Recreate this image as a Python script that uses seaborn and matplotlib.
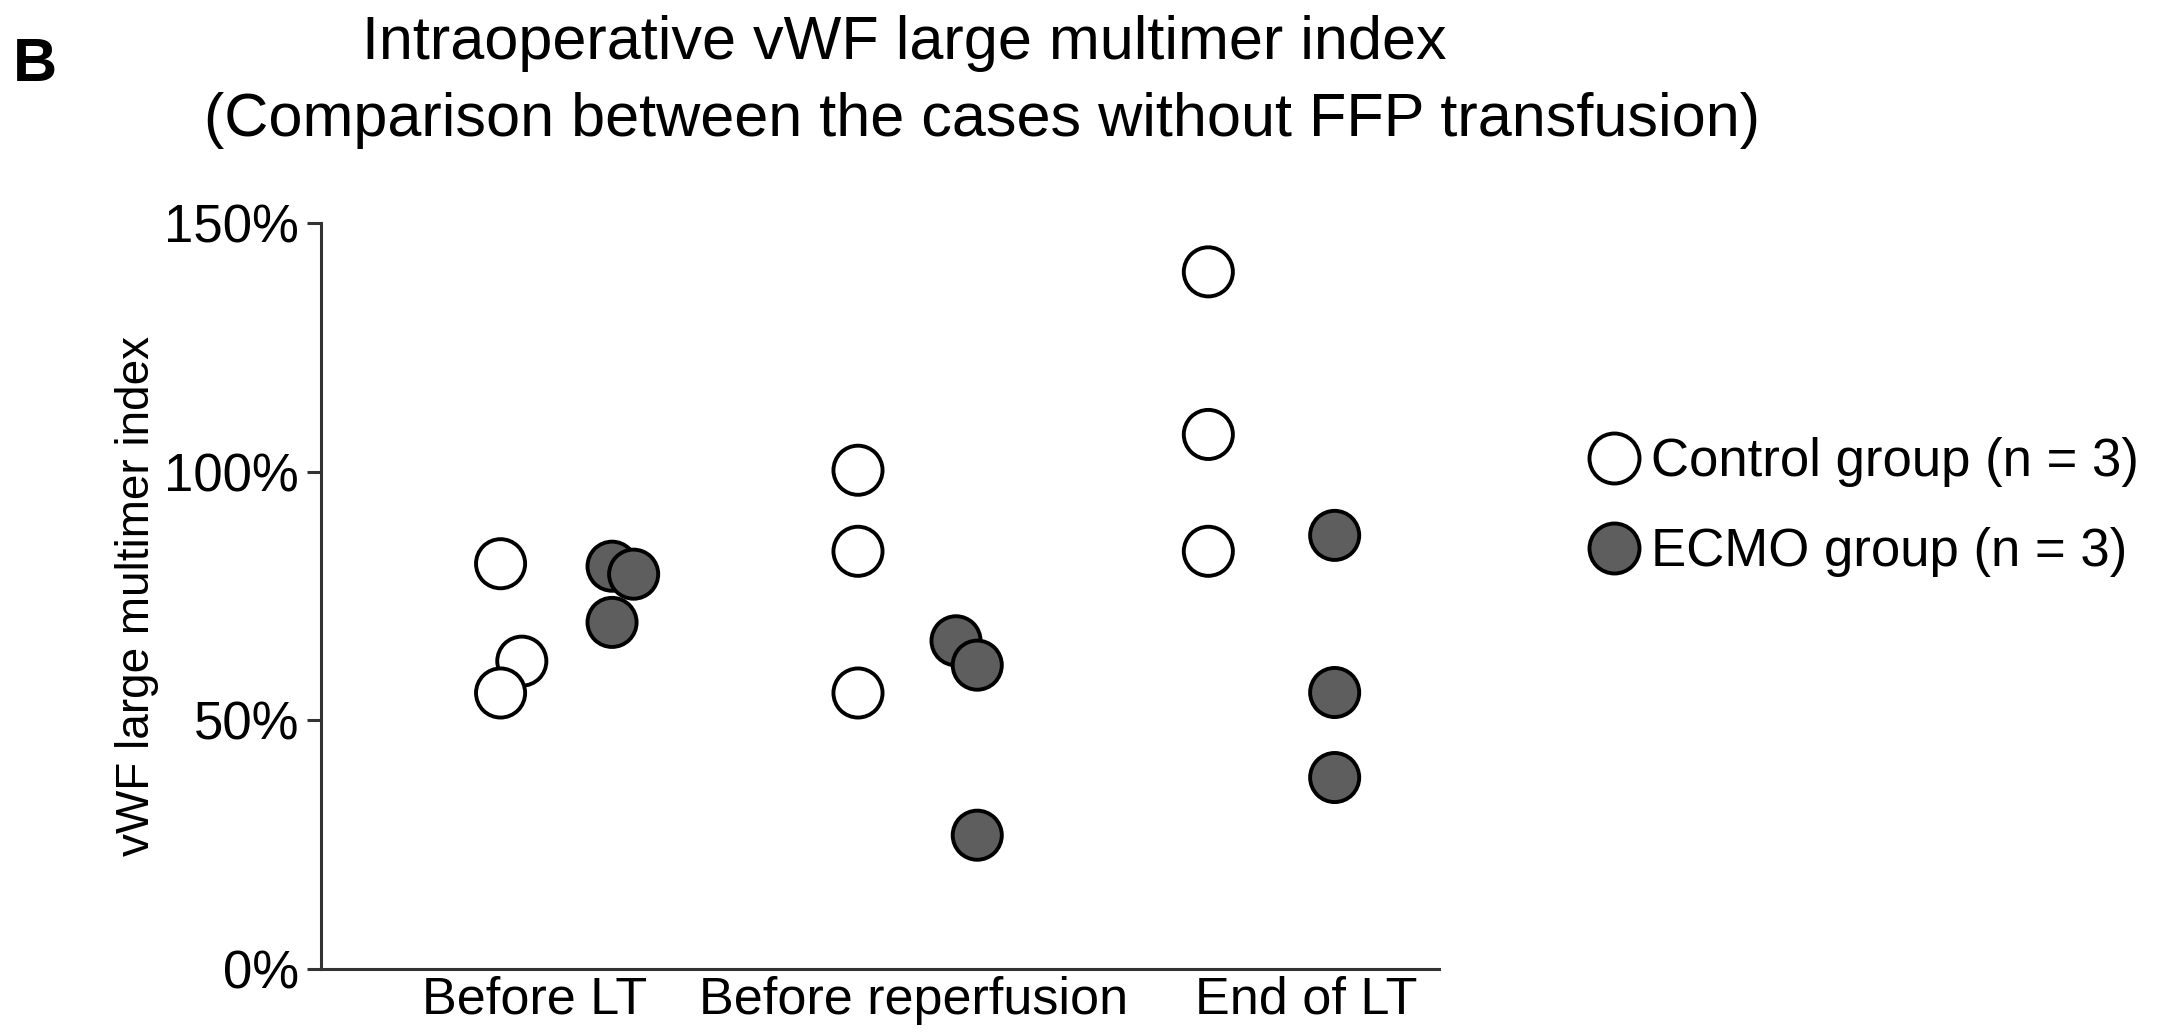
import pandas as pd
import seaborn as sns
import matplotlib.pyplot as plt

sns.set_style("white")
plt.rcParams['font.family'] = ['Liberation Sans', 'DejaVu Sans']
plt.rcParams['text.color'] = 'black'
plt.rcParams['axes.labelcolor'] = 'black'
plt.rcParams['xtick.color'] = 'black'
plt.rcParams['ytick.color'] = 'black'

timepoints = ["Before LT", "Before reperfusion", "End of LT"]
groups = ["Control group (n = 3)", "ECMO group (n = 3)"]

# values (%), three patients per group and timepoint
control_vals = [[81.5, 61.9, 55.5], [100.3, 84.0, 55.5], [140.2, 107.5, 84.0]]
ecmo_vals = [[81.0, 79.4, 69.7], [66.0, 61.1, 26.9], [87.2, 55.6, 38.5]]
# horizontal spread of the dots within each timepoint
control_offset = [[0.0, 0.06, 0.0], [0.01, 0.01, 0.01], [0.0, 0.0, 0.0]]
ecmo_offset = [[0.315, 0.376, 0.315], [0.287, 0.347, 0.347], [0.357, 0.357, 0.357]]
tick_pos = [0.097, 1.168, 2.278]

rows = []
for i in range(3):
    for v, o in zip(control_vals[i], control_offset[i]):
        rows.append({"x": i + o, "value": v, "group": groups[0]})
    for v, o in zip(ecmo_vals[i], ecmo_offset[i]):
        rows.append({"x": i + o, "value": v, "group": groups[1]})
df = pd.DataFrame(rows)

fig = plt.figure(figsize=(21.7, 10.33), dpi=100)
ax = fig.add_axes([0.148, 0.062, 0.515, 0.722])

sns.scatterplot(data=df, x="x", y="value", hue="group", ax=ax,
                palette={groups[0]: "white", groups[1]: "#5e5e5e"},
                s=1250, edgecolor="black", linewidth=2.8, zorder=3)

ax.set_xlim(-0.507, 2.651)
ax.set_ylim(0, 150)
ax.set_yticks([0, 50, 100, 150])
ax.set_yticklabels(["0%", "50%", "100%", "150%"], fontsize=38)
ax.set_xticks(tick_pos)
ax.set_xticklabels(timepoints, fontsize=37.5)
ax.tick_params(axis="x", length=0, pad=5)
ax.tick_params(axis="y", length=10, width=2.2, color="#333333", pad=6, left=True)
ax.set_xlabel("")
ax.set_ylabel("vWF large multimer index", fontsize=33)
ax.yaxis.set_label_coords(-0.145, 0.5)
sns.despine(ax=ax)
for sp in ["left", "bottom"]:
    ax.spines[sp].set_linewidth(2.2)
    ax.spines[sp].set_color("#333333")

handles, labels = ax.get_legend_handles_labels()
for h in handles:
    h.set_markersize(36)
    h.set_markeredgewidth(2.8)
    h.set_markeredgecolor("black")
ax.legend(handles, labels, loc="center left", bbox_to_anchor=(0.717, 0.509),
          bbox_transform=fig.transFigure, frameon=False, fontsize=38,
          handletextpad=0.1, labelspacing=0.75, borderpad=0, handlelength=1.2)

fig.text(0.006, 0.922, "B", fontsize=44, fontweight="bold", va="baseline")
fig.text(0.167, 0.943, "Intraoperative vWF large multimer index",
         fontsize=44, va="baseline")
fig.text(0.094, 0.868, "(Comparison between the cases without FFP transfusion)",
         fontsize=44, va="baseline")

fig.savefig("out.png", dpi=100)
